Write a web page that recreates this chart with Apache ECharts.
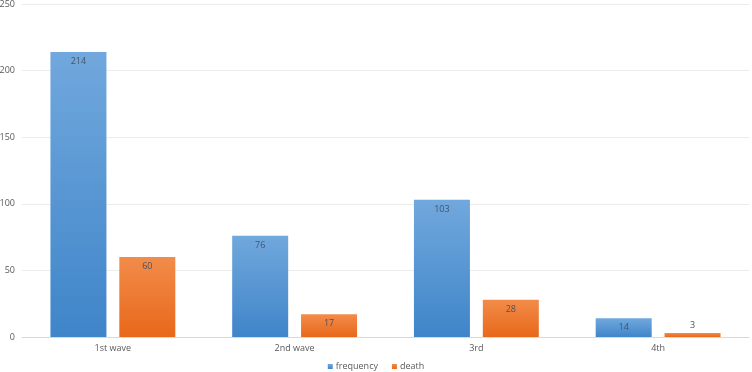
<!DOCTYPE html>
<html>
<head>
<meta charset="utf-8">
<script src="https://cdn.jsdelivr.net/npm/echarts@6/dist/echarts.min.js"></script>
<style>
html,body{margin:0;padding:0;background:#fff;}
#main{width:752px;height:372px;}
</style>
</head>
<body>
<div id="main"></div>
<script>
var categories = ['1st wave', '2nd wave', '3rd', '4th'];
var frequencyData = [214, 76, 103, 14];
var deathData = [60, 17, 28, 3];

var chart = echarts.init(document.getElementById('main'));

function grad(top, bottom) {
    return new echarts.graphic.LinearGradient(0, 0, 0, 1, [
        {offset: 0, color: top},
        {offset: 1, color: bottom}
    ]);
}

var labelStyle = {
    show: true,
    position: 'insideTop',
    distance: 5,
    color: '#44546a',
    fontSize: 9,
    fontFamily: 'Open Sans'
};

// very short bars get their label above the bar
function withLabels(values) {
    return values.map(function (v) {
        if (v < 8) {
            return {value: v, label: {position: 'top', distance: 3}};
        }
        return v;
    });
}

var option = {
    animation: false,
    textStyle: {fontFamily: 'Open Sans'},
    grid: {left: 22, right: 3, top: 4, bottom: 35, outerBoundsMode: 'none'},
    legend: {
        bottom: -4,
        itemWidth: 5,
        itemHeight: 5,
        itemGap: 14,
        icon: 'rect',
        textStyle: {color: '#595959', fontSize: 9, padding: [0, 0, 0, -2]},
        data: ['frequency', 'death']
    },
    xAxis: {
        type: 'category',
        data: categories,
        axisLine: {lineStyle: {color: '#d9d9d9'}},
        axisTick: {show: false},
        axisLabel: {color: '#595959', fontSize: 9, margin: 7}
    },
    yAxis: {
        type: 'value',
        min: 0,
        max: 250,
        interval: 50,
        axisLine: {show: false},
        axisTick: {show: false},
        splitLine: {lineStyle: {color: '#ececec'}},
        axisLabel: {color: '#595959', fontSize: 9, margin: 7}
    },
    series: [
        {
            name: 'frequency',
            type: 'bar',
            data: withLabels(frequencyData),
            barWidth: 56,
            barGap: '23%',
            itemStyle: {color: grad('#71a8dd', '#3f85c9')},
            label: labelStyle
        },
        {
            name: 'death',
            type: 'bar',
            data: withLabels(deathData),
            barWidth: 56,
            itemStyle: {color: grad('#f28c4a', '#e8681a')},
            label: labelStyle
        }
    ]
};

chart.setOption(option);
</script>
</body>
</html>
